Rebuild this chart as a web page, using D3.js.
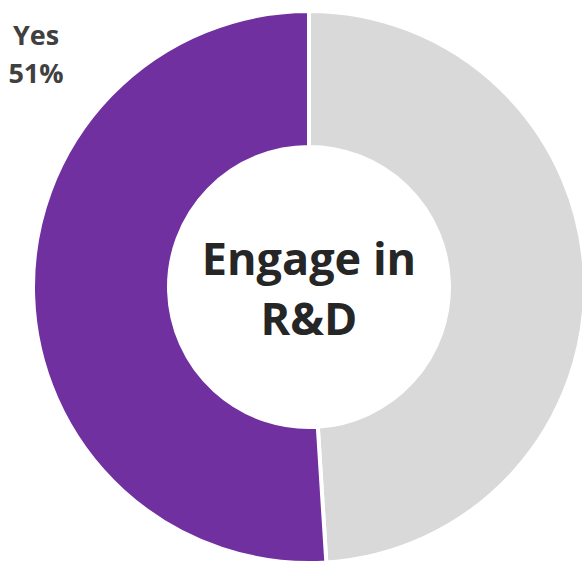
<!DOCTYPE html>
<html>
<head>
    <meta charset="utf-8" />
    <script src="https://d3js.org/d3.v7.min.js"></script>
    <title>Engage in R&amp;D</title>
    <style type="text/css">
        body { margin: 0; background: #fff; }
        .label { font-family: "Open Sans", sans-serif; font-weight: 700; fill: #404040; }
        .center { font-family: "Open Sans", sans-serif; font-weight: 700; fill: #262626; }
    </style>
</head>
<body>
    <div id="chart"></div>

    <script type="text/javascript">
        // data
        const categories = ["No", "Yes"];
        const values = [49, 51];
        const colors = ["#D9D9D9", "#7030A0"];
        const centerLines = ["Engage in", "R&D"];

        const width = 582, height = 563;
        const cx = 309, cy = 287;
        const outerR = 276, innerR = 140;

        const svg = d3.select("#chart").append("svg")
            .attr("width", width).attr("height", height);

        const pie = d3.pie().sort(null).value(d => d);
        const arc = d3.arc().innerRadius(innerR).outerRadius(outerR);

        const g = svg.append("g").attr("transform", `translate(${cx},${cy})`);

        g.selectAll("path")
            .data(pie(values))
            .enter().append("path")
            .attr("d", arc)
            .attr("fill", (d, i) => colors[i])
            .attr("stroke", "#fff")
            .attr("stroke-width", 4);

        // centre title
        g.selectAll("text.center")
            .data(centerLines)
            .enter().append("text")
            .attr("class", "center")
            .attr("text-anchor", "middle")
            .attr("x", 0)
            .attr("y", (d, i) => -12 + i * 60)
            .attr("font-size", 45)
            .text(d => d);

        // data label for Yes
        const yes = categories.indexOf("Yes");
        const lbl = svg.append("text")
            .attr("class", "label")
            .attr("text-anchor", "middle")
            .attr("font-size", 27);
        lbl.append("tspan").attr("x", 36).attr("y", 45).text(categories[yes]);
        lbl.append("tspan").attr("x", 36).attr("y", 83).text(values[yes] + "%");
    </script>
</body>
</html>
